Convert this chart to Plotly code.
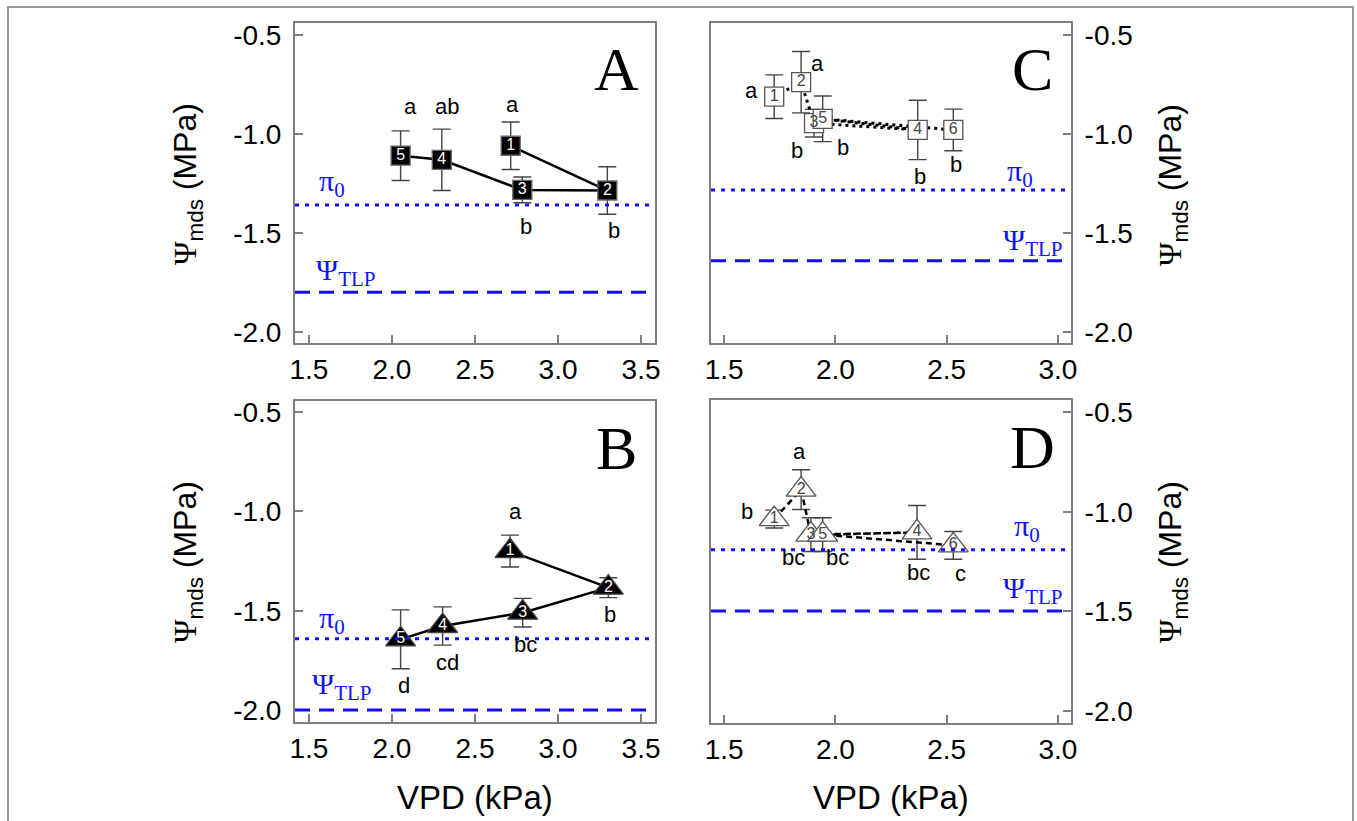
import plotly.graph_objects as go

W, H = 1357, 821

# ---------------- DATA ----------------
# Panel A (filled squares)
a_labels = ["1", "2", "3", "4", "5"]
a_vpd = [2.715, 3.297, 2.785, 2.30, 2.052]
a_psi = [-1.06, -1.286, -1.283, -1.131, -1.11]
a_err = [0.12, 0.12, 0.065, 0.155, 0.125]
a_letters = ["a", "b", "b", "ab", "a"]
a_pi0 = -1.359
a_tlp = -1.80

# Panel B (filled triangles)
b_labels = ["1", "2", "3", "4", "5"]
b_vpd = [2.711, 3.303, 2.787, 2.305, 2.052]
b_psi = [-1.20, -1.384, -1.51, -1.577, -1.644]
b_err = [0.08, 0.05, 0.072, 0.096, 0.148]
b_letters = ["a", "b", "bc", "cd", "d"]
b_pi0 = -1.641
b_tlp = -2.0

# Panel C (open squares)
c_labels = ["1", "2", "3", "4", "5", "6"]
c_vpd = [1.725, 1.846, 1.904, 2.37, 1.943, 2.53]
c_psi = [-0.812, -0.739, -0.946, -0.98, -0.924, -0.98]
c_err = [0.11, 0.155, 0.07, 0.15, 0.115, 0.105]
c_letters = ["a", "a", "b", "b", "b", "b"]
c_pi0 = -1.283
c_tlp = -1.641

# Panel D (open triangles)
d_labels = ["1", "2", "3", "4", "5", "6"]
d_vpd = [1.725, 1.846, 1.89, 2.367, 1.943, 2.53]
d_psi = [-1.036, -0.888, -1.114, -1.103, -1.114, -1.168]
d_err = [0.045, 0.1, 0.085, 0.135, 0.085, 0.07]
d_letters = ["b", "a", "bc", "bc", "bc", "c"]
d_pi0 = -1.19
d_tlp = -1.497

x_ticks_ab = [1.5, 2.0, 2.5, 3.0, 3.5]
x_ticktext_ab = ["1.5", "2.0", "2.5", "3.0", "3.5"]
x_ticks_cd = [1.5, 2.0, 2.5, 3.0]
x_ticktext_cd = ["1.5", "2.0", "2.5", "3.0"]
y_ticks = [-2.0, -1.5, -1.0, -0.5]
y_ticktext = ["-2.0", "-1.5", "-1.0", "-0.5"]

# ---------------- STYLE / LAYOUT ----------------
SANS = "Liberation Sans, Arial, sans-serif"
SERIF = "Liberation Serif, Times New Roman, serif"
BLUE = "#1010ff"
GRAY = "#7f7f7f"

def px_x(a, b):
    return [a / W, b / W]

def px_y(top, bottom):
    return [1 - bottom / H, 1 - top / H]

dom = {
    "A": (px_x(295, 655), px_y(23, 343)),
    "B": (px_x(295, 655), px_y(401, 722)),
    "C": (px_x(711, 1071), px_y(23, 343)),
    "D": (px_x(711, 1071), px_y(400, 723)),
}

fig = go.Figure()

# letter offsets (pixels) relative to each point
a_off = [(2, 41), (7, -40), (4, -37), (5, 53), (10, 49)]
b_off = [(5, 40), (2, -27), (3, -32), (5, -36), (3, -46)]
c_off = [(-23, 6), (16, 19), (-17, -27), (2, -47), (20, -29), (3, -35)]
d_off = [(-27, 8), (-2, 38), (-17, -23), (1, -40), (15, -23), (7, -28)]

panels = [
    dict(n="A", ax="", x=a_vpd, y=a_psi, e=a_err, t=a_labels, L=a_letters, off=a_off,
         sym="square", size=19, fill="black", mline="#666", tcol="white",
         lstyle=dict(color="black", width=2.5), pi0=a_pi0, tlp=a_tlp,
         xr=[1.416, 3.584], yr=[-2.056, -0.44], side="left",
         pi_lab=(0.102, 22), tlp_lab=(0.139, 20)),
    dict(n="B", ax="2", x=b_vpd, y=b_psi, e=b_err, t=b_labels, L=b_letters, off=b_off,
         sym="triangle-up", size=26, fill="black", mline="#444", tcol="white",
         lstyle=dict(color="black", width=2.5), pi0=b_pi0, tlp=b_tlp,
         xr=[1.416, 3.584], yr=[-2.06, -0.445], side="left",
         pi_lab=(0.102, 19), tlp_lab=(0.13, 24)),
    dict(n="C", ax="3", x=c_vpd, y=c_psi, e=c_err, t=c_labels, L=c_letters, off=c_off,
         sym="square", size=19, fill="white", mline="#555", tcol="#444",
         lstyle=dict(color="black", width=3, dash="3px,4px"), pi0=c_pi0, tlp=c_tlp,
         xr=[1.441, 3.059], yr=[-2.056, -0.44], side="right",
         pi_lab=(0.858, 17), tlp_lab=(0.894, 19)),
    dict(n="D", ax="4", x=d_vpd, y=d_psi, e=d_err, t=d_labels, L=d_letters, off=d_off,
         sym="triangle-up", size=26, fill="white", mline="#555", tcol="#444",
         lstyle=dict(color="black", width=2.5, dash="6px,4px"), pi0=d_pi0, tlp=d_tlp,
         xr=[1.441, 3.059], yr=[-2.06, -0.438], side="right",
         pi_lab=(0.877, 22), tlp_lab=(0.894, 21)),
]

annotations = []
shapes = []
for p in panels:
    xa = "x" + p["ax"]
    ya = "y" + p["ax"]
    fig.add_trace(go.Scatter(
        x=p["x"], y=p["y"], mode="lines+markers+text", xaxis=xa, yaxis=ya,
        text=p["t"], textposition="middle center",
        textfont=dict(family=SANS, size=16, color=p["tcol"]),
        line=p["lstyle"],
        marker=dict(symbol=p["sym"], size=p["size"], color=p["fill"],
                    line=dict(color=p["mline"], width=1.3)),
        error_y=dict(type="data", array=p["e"], color="#444", thickness=1.4, width=9),
        showlegend=False, cliponaxis=False,
    ))
    for xv, yv, lt, (dx, dy) in zip(p["x"], p["y"], p["L"], p["off"]):
        annotations.append(dict(x=xv, y=yv, xref=xa, yref=ya, text=lt, showarrow=False,
                                xshift=dx, yshift=dy, xanchor="center", yanchor="middle",
                                font=dict(family=SANS, size=22, color="black")))
    # reference lines
    shapes.append(dict(type="line", xref=xa + " domain", yref=ya, x0=0, x1=1,
                       y0=p["pi0"], y1=p["pi0"],
                       line=dict(color=BLUE, width=3, dash="4px,6px")))
    shapes.append(dict(type="line", xref=xa + " domain", yref=ya, x0=0, x1=1,
                       y0=p["tlp"], y1=p["tlp"],
                       line=dict(color=BLUE, width=3, dash="15px,9px")))
    annotations.append(dict(x=p["pi_lab"][0], y=p["pi0"], xref=xa + " domain", yref=ya,
                            yshift=p["pi_lab"][1], showarrow=False,
                            xanchor="center", yanchor="middle",
                            text="π<sub>0</sub>",
                            font=dict(family=SERIF, size=30, color=BLUE)))
    annotations.append(dict(x=p["tlp_lab"][0], y=p["tlp"], xref=xa + " domain", yref=ya,
                            yshift=p["tlp_lab"][1], showarrow=False,
                            xanchor="center", yanchor="middle",
                            text="Ψ<sub>TLP</sub>",
                            font=dict(family=SERIF, size=30, color=BLUE)))
    # panel letter
    annotations.append(dict(x=0.894, y=0.855, xref=xa + " domain", yref=ya + " domain",
                            text=p["n"], showarrow=False, xanchor="center", yanchor="middle",
                            font=dict(family=SERIF, size=62, color="black")))

axis_common = dict(showline=True, mirror=True, linecolor=GRAY, linewidth=2,
                   ticks="inside", ticklen=8, tickwidth=1.5, tickcolor=GRAY,
                   showgrid=False, zeroline=False, automargin=False,
                   tickfont=dict(family=SANS, size=28, color="black"))

layout = dict(width=W, height=H, margin=dict(l=0, r=0, t=0, b=0),
              paper_bgcolor="white", plot_bgcolor="white", showlegend=False)

for p in panels:
    n = p["n"]
    xd, yd = dom[n]
    xk = "xaxis" + p["ax"]
    yk = "yaxis" + p["ax"]
    xa = "x" + p["ax"]
    ya = "y" + p["ax"]
    if n in ("A", "B"):
        tv, tt = x_ticks_ab, x_ticktext_ab
    else:
        tv, tt = x_ticks_cd, x_ticktext_cd
    layout[xk] = dict(domain=xd, range=p["xr"], anchor=ya, tickvals=tv, ticktext=tt,
                      **axis_common)
    layout[yk] = dict(domain=yd, range=p["yr"], anchor=xa, tickvals=y_ticks,
                      ticktext=y_ticktext, side=p["side"], ticklabelstandoff=6,
                      **axis_common)

ytitle = ("<span style='font-family:Liberation Serif'>Ψ</span>"
          "<sub>mds</sub> (MPa)")
for (xc, yc) in [(187, 184), (187, 562), (1172, 185), (1172, 562)]:
    annotations.append(dict(x=xc / W, y=1 - yc / H, xref="paper", yref="paper",
                            text=ytitle, textangle=-90, showarrow=False,
                            xanchor="center", yanchor="middle",
                            font=dict(family=SANS, size=32, color="black")))
for xc in [475, 891]:
    annotations.append(dict(x=xc / W, y=1 - 797 / H, xref="paper", yref="paper",
                            text="VPD (kPa)", showarrow=False,
                            xanchor="center", yanchor="middle",
                            font=dict(family=SANS, size=33, color="black")))

# outer frame (top/left/right)
shapes.append(dict(type="path", xref="paper", yref="paper",
                   path="M %f,%f L %f,%f L %f,%f L %f,%f" % (
                       8 / W, -0.1, 8 / W, 1 - 7 / H, 1353 / W, 1 - 7 / H, 1353 / W, -0.1),
                   line=dict(color="#999999", width=2)))

layout["annotations"] = annotations
layout["shapes"] = shapes
fig.update_layout(**layout)
fig.write_html("out.html")
